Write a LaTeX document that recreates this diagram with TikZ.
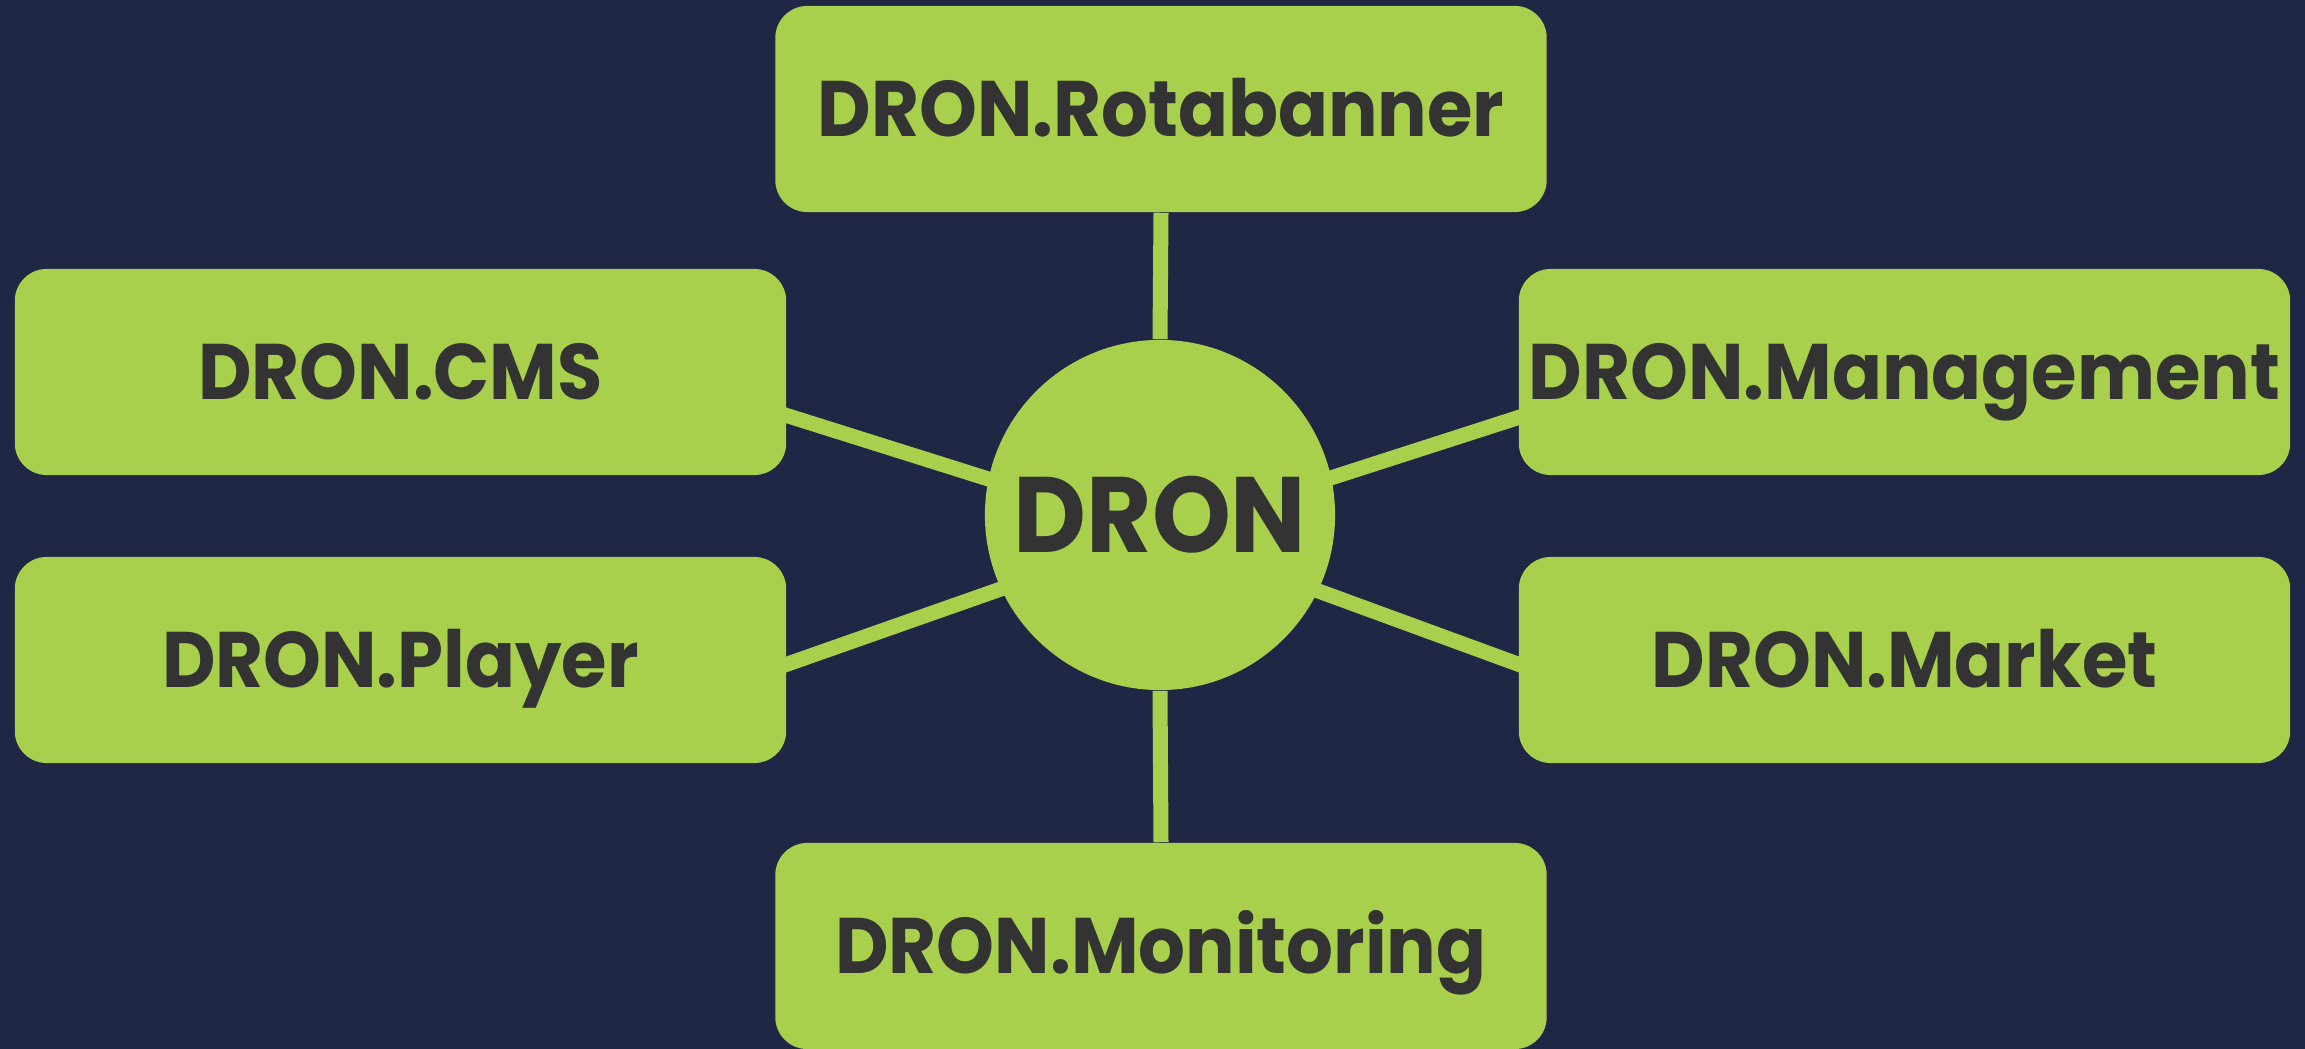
\documentclass[tikz,border=0pt]{standalone}
\usepackage{fontspec}
\setmainfont{Poppins}
\usetikzlibrary{calc}
\definecolor{bgnavy}{HTML}{1F2744}
\definecolor{limeg}{HTML}{A9D04C}
\definecolor{txtgray}{HTML}{333333}
\pgfdeclarelayer{bg}
\pgfsetlayers{bg,main}
\newcommand{\narrowtxt}[1]{\scalebox{0.935}[1]{#1}}
\tikzset{
  modbox/.style={rectangle, rounded corners=0.32cm, fill=limeg, draw=none,
    minimum width=7.71cm, minimum height=2.06cm, inner sep=0pt,
    text=txtgray, font=\bfseries\fontsize{22.4pt}{24pt}\selectfont,
    text height=0.55cm, text depth=0pt},
  hubnode/.style={circle, fill=limeg, draw=none, minimum size=3.5cm, inner sep=0pt,
    text=txtgray, font=\bfseries\fontsize{30.5pt}{32pt}\selectfont,
    text height=0.75cm, text depth=0pt},
  conn/.style={draw=limeg, line width=0.15cm}
}
\begin{document}
\begin{tikzpicture}[x=0.01cm,y=-0.01cm]
\useasboundingbox (0,0) rectangle (2305,1049);
\begin{pgfonlayer}{bg}
\fill[bgnavy] (0,0) rectangle (2305,1049);
\end{pgfonlayer}
\node[hubnode] (dron) at (1160,515) {\narrowtxt{DRON}};
\node[modbox] (rot) at (1161,109) {\narrowtxt{DRON.Rotabanner}};
\node[modbox] (cms) at (400.5,372) {\narrowtxt{DRON.CMS}};
\node[modbox] (player) at (400.5,660) {\narrowtxt{DRON.Player}};
\node[modbox] (mgmt) at (1904.5,372) {\narrowtxt{DRON.Management}};
\node[modbox] (market) at (1904.5,660) {\narrowtxt{DRON.Market}};
\node[modbox] (mon) at (1161,946) {\narrowtxt{DRON.Monitoring}};
\coordinate (hub) at (1160,533);
\begin{pgfonlayer}{bg}
\draw[conn] (rot.south) -- (dron.north);
\draw[conn] (mon.north) -- (dron.south);
\draw[conn] ($(cms.east)+(-5,42)$) -- (hub);
\draw[conn] ($(player.east)+(-5,6)$) -- (hub);
\draw[conn] ($(mgmt.west)+(5,44)$) -- (hub);
\draw[conn] ($(market.west)+(5,6)$) -- (hub);
\end{pgfonlayer}
\end{tikzpicture}
\end{document}
